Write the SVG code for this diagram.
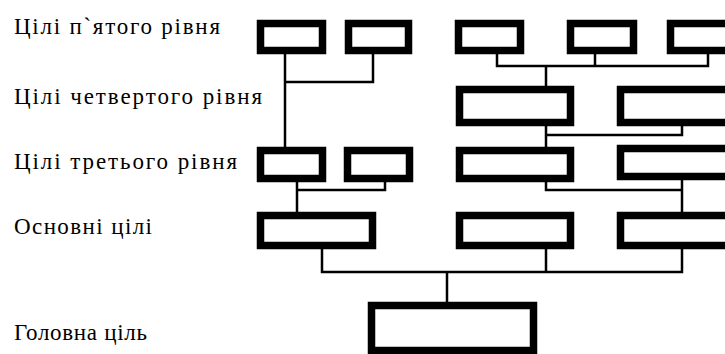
<svg xmlns="http://www.w3.org/2000/svg" width="725" height="354" viewBox="0 0 725 354">
  <style>
    .box { fill: #fff; stroke: #000; stroke-width: 7.5; }
    .lbl { font-family: "Liberation Serif", "DejaVu Serif", serif; font-size: 23px; fill: #000; }
    .wire { fill: none; stroke: #000; stroke-width: 2.5; }
  </style>
  <rect width="725" height="354" fill="#fff"/>

  <!-- level labels -->
  <g id="labels">
    <text class="lbl" x="14" y="34" textLength="206" lengthAdjust="spacing">Цілі п`ятого рівня</text>
    <text class="lbl" x="14" y="104" textLength="248" lengthAdjust="spacing">Цілі четвертого рівня</text>
    <text class="lbl" x="14" y="169" textLength="223" lengthAdjust="spacing">Цілі третього рівня</text>
    <text class="lbl" x="14" y="234" textLength="138" lengthAdjust="spacing">Основні цілі</text>
    <text class="lbl" x="14" y="340" textLength="133" lengthAdjust="spacing">Головна ціль</text>
  </g>

  <!-- connectors -->
  <g id="connectors" class="wire">
    <!-- fifth level, left pair -->
    <path d="M285 54 V147 M285 82 H373 V54"/>
    <!-- fifth level, right group -->
    <path d="M497 54 V66 H708 V54 M595 54 V66 M546 66 V86"/>
    <!-- fourth level -->
    <path d="M546 126 V147 M546 135 H682 V126"/>
    <!-- third level, left pair -->
    <path d="M297 182 V212 M297 190 H385 V182"/>
    <!-- third level, right pair -->
    <path d="M546 182 V190 H682 M682 180 V212"/>
    <!-- basic goals to main goal -->
    <path d="M322 249 V272 H682 V249 M546 249 V272 M447 272 V302"/>
  </g>

  <!-- fifth level -->
  <g id="n5a"><rect class="box" x="260.5" y="23.5" width="62" height="27"/></g>
  <g id="n5b"><rect class="box" x="348.5" y="23.5" width="60" height="27"/></g>
  <g id="n5c"><rect class="box" x="458.5" y="23.5" width="62" height="27"/></g>
  <g id="n5d"><rect class="box" x="570.5" y="23.5" width="63" height="27"/></g>
  <g id="n5e"><rect class="box" x="670.5" y="23.5" width="80" height="27"/></g>

  <!-- fourth level -->
  <g id="n4a"><rect class="box" x="459.5" y="89.5" width="111" height="33"/></g>
  <g id="n4b"><rect class="box" x="620.5" y="89.5" width="130" height="33"/></g>

  <!-- third level -->
  <g id="n3a"><rect class="box" x="260.5" y="150.5" width="62" height="28"/></g>
  <g id="n3b"><rect class="box" x="347.5" y="150.5" width="62" height="28"/></g>
  <g id="n3c"><rect class="box" x="459.5" y="150.5" width="111" height="28"/></g>
  <g id="n3d"><rect class="box" x="620.5" y="148.5" width="130" height="28"/></g>

  <!-- basic goals -->
  <g id="n2a"><rect class="box" x="260.5" y="215.5" width="112" height="30"/></g>
  <g id="n2b"><rect class="box" x="459.5" y="215.5" width="111" height="30"/></g>
  <g id="n2c"><rect class="box" x="620.5" y="215.5" width="130" height="30"/></g>

  <!-- main goal -->
  <g id="n1"><rect class="box" x="371.5" y="305.5" width="162" height="45"/></g>
</svg>
